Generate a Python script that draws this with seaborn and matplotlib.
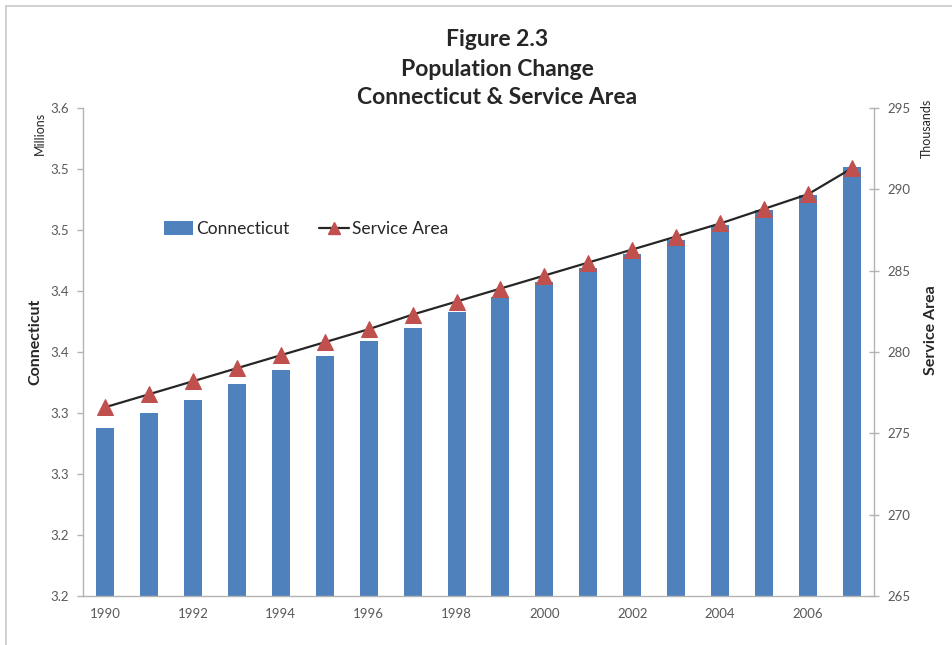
import numpy as np
import pandas as pd
import matplotlib
matplotlib.use("Agg")
import matplotlib.pyplot as plt
import seaborn as sns
from matplotlib.lines import Line2D
from matplotlib.patches import Patch

# ---- data ----
years = [1990, 1991, 1992, 1993, 1994, 1995, 1996, 1997, 1998,
         1999, 2000, 2001, 2002, 2003, 2004, 2005, 2006, 2007]
connecticut = [3.288, 3.300, 3.311, 3.324, 3.335, 3.347, 3.359, 3.370, 3.383,
               3.395, 3.407, 3.419, 3.430, 3.442, 3.454, 3.466, 3.479, 3.502]  # millions
service_area = [276.6, 277.4, 278.2, 279.0, 279.8, 280.6, 281.4, 282.3, 283.1,
                283.9, 284.7, 285.5, 286.3, 287.1, 287.9, 288.8, 289.7, 291.3]  # thousands
ct_ticks = [3.15, 3.20, 3.25, 3.30, 3.35, 3.40, 3.45, 3.50, 3.55]
ct_tick_labels = ["3.2", "3.2", "3.3", "3.3", "3.4", "3.4", "3.5", "3.5", "3.6"]
sa_ticks = [265, 270, 275, 280, 285, 290, 295]
year_ticks = [1990, 1992, 1994, 1996, 1998, 2000, 2002, 2004, 2006]
title_lines = ["Figure 2.3", "Population Change", "Connecticut & Service Area"]

BLUE = "#4f81bd"
RED = "#c0504d"
AXCOL = "#b3b3b3"
TXT = "#595959"

sns.set_style("white")
plt.rcParams['font.family'] = ['Lato', 'DejaVu Sans']

W, H = 952, 645
fig = plt.figure(figsize=(W / 100, H / 100), dpi=100)
ax = fig.add_axes([83 / W, 1 - 596 / H, (874 - 83) / W, (596 - 108) / H])

df = pd.DataFrame({"Year": years, "Connecticut": connecticut, "Service Area": service_area})

sns.barplot(data=df, x="Year", y="Connecticut", native_scale=True, width=0.41,
            color=BLUE, saturation=1, linewidth=0, ax=ax, zorder=2)
ax.set_ylim(3.15, 3.55)
ax.set_xlim(1989.5, 2007.5)

ax2 = ax.twinx()
sns.lineplot(data=df, x="Year", y="Service Area", ax=ax2, color="#262626",
             linewidth=1.6, marker="^", markersize=11,
             markerfacecolor=RED, markeredgecolor=RED, zorder=3)
ax2.set_ylim(265, 295)
ax2.set_xlim(1989.5, 2007.5)

# ticks
ax.set_yticks(ct_ticks, ct_tick_labels)
ax.set_xticks(year_ticks, [str(y) for y in year_ticks])
ax.set_xticks(np.arange(years[0] - 0.5, years[-1] + 1, 1), minor=True)
ax.tick_params(axis='x', which='major', length=0, pad=9, labelsize=9.5, labelcolor=TXT)
ax.tick_params(axis='x', which='minor', length=4, width=1, color=AXCOL, direction='out')
ax.tick_params(axis='y', length=4, width=1, color=AXCOL, direction='out',
               labelsize=9.5, labelcolor=TXT, pad=6, left=True)
ax2.set_yticks(sa_ticks, [str(v) for v in sa_ticks])
ax2.tick_params(axis='y', direction='inout', length=7, width=1, color=AXCOL,
                labelsize=9.5, labelcolor=TXT, pad=6)

for a in (ax, ax2):
    a.set_xlabel("")
    a.set_ylabel("")
    a.grid(False)
    for s in a.spines.values():
        s.set_visible(False)
ax.spines['left'].set_visible(True)
ax.spines['bottom'].set_visible(True)
ax2.spines['right'].set_visible(True)
for s in (ax.spines['left'], ax.spines['bottom'], ax2.spines['right']):
    s.set_color(AXCOL)
    s.set_linewidth(1)
ax.set_facecolor("white")
ax2.patch.set_visible(False)

# legend
handles = [Patch(facecolor=BLUE, edgecolor='none'),
           Line2D([], [], color="#262626", linewidth=1.6, marker="^", markersize=9,
                  markerfacecolor=RED, markeredgecolor=RED)]
ax2.legend(handles, ["Connecticut", "Service Area"], ncol=2, frameon=False,
           loc="center left", bbox_to_anchor=(148 / W, 1 - 229 / H),
           bbox_transform=fig.transFigure, fontsize=12.5, handlelength=1.7,
           handletextpad=0.2, columnspacing=1.7, handleheight=0.8,
           labelcolor="#262626")

# titles
for i, line in enumerate(title_lines):
    fig.text(497 / W, 1 - (40 + 29 * i) / H, line, ha='center', va='center',
             fontsize=16.5, fontweight='bold', color="#262626")

# axis labels
fig.text(40 / W, 1 - 133 / H, "Millions", rotation=90, ha='center', va='center',
         fontsize=9, color="#262626")
fig.text(35 / W, 1 - 342 / H, "Connecticut", rotation=90, ha='center', va='center',
         fontsize=11.5, fontweight='bold', color="#262626")
fig.text(927 / W, 1 - 128 / H, "Thousands", rotation=90, ha='center', va='center',
         fontsize=9, color="#262626")
fig.text(931 / W, 1 - 330 / H, "Service Area", rotation=90, ha='center', va='center',
         fontsize=11.5, fontweight='bold', color="#262626")

# outer frame (left and top edges visible)
fig.add_artist(Line2D([6 / W, 6 / W], [0, 1 - 6 / H], transform=fig.transFigure,
                      color="#c8c8c8", linewidth=1.2))
fig.add_artist(Line2D([6 / W, 1], [1 - 6 / H, 1 - 6 / H], transform=fig.transFigure,
                      color="#c8c8c8", linewidth=1.2))

fig.savefig("out.png", dpi=100, facecolor="white")
